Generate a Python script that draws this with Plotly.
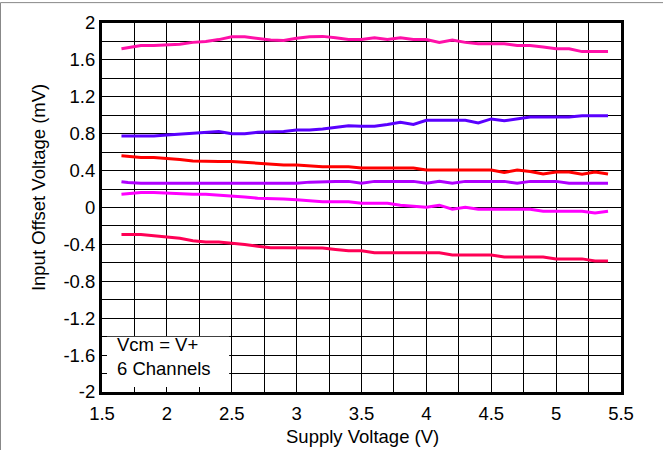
import plotly.graph_objects as go

supply_v = [1.65, 1.7, 1.8, 1.9, 2.0, 2.1, 2.2, 2.3, 2.4, 2.5, 2.6, 2.7, 2.8, 2.9, 3.0,
            3.1, 3.2, 3.3, 3.4, 3.5, 3.6, 3.7, 3.8, 3.9, 4.0, 4.1, 4.2, 4.3, 4.4, 4.5,
            4.6, 4.7, 4.8, 4.9, 5.0, 5.1, 5.2, 5.3, 5.4]

ch1 = [1.72, 1.73, 1.757, 1.757, 1.76, 1.77, 1.79, 1.80, 1.82, 1.85, 1.85, 1.835, 1.815, 1.81, 1.835,
       1.85, 1.855, 1.84, 1.82, 1.82, 1.84, 1.82, 1.84, 1.82, 1.82, 1.79, 1.815, 1.79, 1.775, 1.775,
       1.775, 1.757, 1.757, 1.74, 1.72, 1.72, 1.69, 1.69, 1.69]
ch2 = [0.776, 0.776, 0.776, 0.776, 0.785, 0.795, 0.80, 0.81, 0.823, 0.80, 0.80, 0.815, 0.82, 0.825, 0.84,
       0.84, 0.85, 0.866, 0.885, 0.88, 0.88, 0.90, 0.925, 0.90, 0.945, 0.945, 0.945, 0.945, 0.917, 0.96,
       0.94, 0.96, 0.98, 0.98, 0.98, 0.98, 0.995, 0.995, 0.995]
ch3 = [0.56, 0.555, 0.543, 0.543, 0.535, 0.52, 0.505, 0.50, 0.50, 0.50, 0.49, 0.478, 0.465, 0.46, 0.46,
       0.45, 0.442, 0.442, 0.442, 0.428, 0.428, 0.428, 0.428, 0.428, 0.406, 0.406, 0.406, 0.406, 0.406, 0.406,
       0.38, 0.406, 0.39, 0.363, 0.385, 0.385, 0.36, 0.385, 0.363]
ch4 = [0.28, 0.27, 0.262, 0.262, 0.262, 0.262, 0.262, 0.262, 0.262, 0.262, 0.262, 0.262, 0.262, 0.262, 0.262,
       0.275, 0.283, 0.283, 0.283, 0.262, 0.283, 0.283, 0.283, 0.283, 0.262, 0.283, 0.262, 0.283, 0.283, 0.283,
       0.283, 0.262, 0.283, 0.283, 0.283, 0.262, 0.262, 0.262, 0.262]
ch5 = [0.143, 0.15, 0.162, 0.162, 0.155, 0.143, 0.143, 0.143, 0.135, 0.125, 0.115, 0.10, 0.10, 0.092, 0.083,
       0.07, 0.061, 0.061, 0.061, 0.046, 0.046, 0.046, 0.025, 0.015, 0.003, 0.025, -0.018, 0.003, -0.018, -0.018,
       -0.018, -0.018, -0.018, -0.04, -0.04, -0.04, -0.04, -0.06, -0.04]
ch6 = [-0.294, -0.294, -0.294, -0.305, -0.316, -0.334, -0.36, -0.374, -0.374, -0.385, -0.40, -0.42, -0.435, -0.435, -0.435,
       -0.435, -0.44, -0.455, -0.47, -0.47, -0.49, -0.49, -0.49, -0.49, -0.49, -0.49, -0.514, -0.514, -0.514, -0.514,
       -0.536, -0.536, -0.536, -0.536, -0.557, -0.557, -0.557, -0.579, -0.579]

channels = [ch1, ch2, ch3, ch4, ch5, ch6]
colors = ["#FF10A8", "#5A00FF", "#FF0000", "#B000FF", "#FF00FF", "#FF0055"]

x_tickvals = [1.5, 2, 2.5, 3, 3.5, 4, 4.5, 5, 5.5]
x_ticktext = ["1.5", "2", "2.5", "3", "3.5", "4", "4.5", "5", "5.5"]
y_tickvals = [2, 1.6, 1.2, 0.8, 0.4, 0, -0.4, -0.8, -1.2, -1.6, -2]
y_ticktext = ["2", "1.6", "1.2", "0.8", "0.4", "0", "-0.4", "-0.8", "-1.2", "-1.6", "-2"]

FONT = "Liberation Sans, Arial, sans-serif"
FS = 18.5

fig = go.Figure()
for ys, c in zip(channels, colors):
    fig.add_trace(go.Scatter(x=supply_v, y=ys, mode="lines",
                             line=dict(color=c, width=3), showlegend=False))

W, H = 663, 450
L, R, T, B = 102, 42, 21, 58
pw, ph = W - L - R, H - T - B

def px(xp):
    return (xp - L) / pw

def py(yp):
    return (H - B - yp) / ph

axis_common = dict(
    showline=True, linecolor="black", linewidth=3, mirror=True,
    showgrid=True, gridcolor="#000000", gridwidth=1,
    ticks="inside", ticklen=5, tickcolor="black", tickwidth=1,
    zeroline=False, tickfont=dict(family=FONT, size=FS, color="black"),
)

fig.update_layout(
    width=W, height=H,
    margin=dict(l=L, r=R, t=T, b=B),
    paper_bgcolor="white", plot_bgcolor="white",
    font=dict(family=FONT, size=FS, color="black"),
    xaxis=dict(range=[1.5, 5.5], tickvals=x_tickvals, ticktext=x_ticktext, ticklabelstandoff=3,
               minor=dict(dtick=0.25, tick0=1.5, showgrid=True, gridcolor="#000000", gridwidth=1,
                          ticks="inside", ticklen=5, tickcolor="black"),
               **axis_common),
    yaxis=dict(range=[-2, 2], tickvals=y_tickvals, ticktext=y_ticktext,
               minor=dict(dtick=0.2, tick0=0, showgrid=True, gridcolor="#000000", gridwidth=1,
                          ticks="inside", ticklen=5, tickcolor="black"),
               **axis_common),
    shapes=[
        dict(type="rect", xref="x", yref="y", x0=1.5, x1=2.48, y0=-2, y1=-1.40,
             fillcolor="white", line=dict(width=0), layer="between"),
        dict(type="line", xref="paper", yref="paper", x0=px(0.5), x1=px(W + 5), y0=py(0.5), y1=py(0.5),
             line=dict(color="#888888", width=1)),
        dict(type="line", xref="paper", yref="paper", x0=px(0.5), x1=px(0.5), y0=py(H + 5), y1=py(0.5),
             line=dict(color="#888888", width=1)),
    ],
    annotations=[
        dict(text="Vcm = V+<br>6 Channels", x=1.604, y=-1.617, xref="x", yref="y",
             xanchor="left", yanchor="middle", align="left", showarrow=False,
             font=dict(family=FONT, size=FS, color="black")),
        dict(text="Input Offset Voltage (mV)", textangle=-90, x=px(38), y=py(187),
             xref="paper", yref="paper", xanchor="center", yanchor="middle", showarrow=False,
             font=dict(family=FONT, size=FS, color="black")),
        dict(text="Supply Voltage (V)", x=px(362.5), y=py(437),
             xref="paper", yref="paper", xanchor="center", yanchor="middle", showarrow=False,
             font=dict(family=FONT, size=FS, color="black")),
    ],
)

fig.write_html("out.html")
